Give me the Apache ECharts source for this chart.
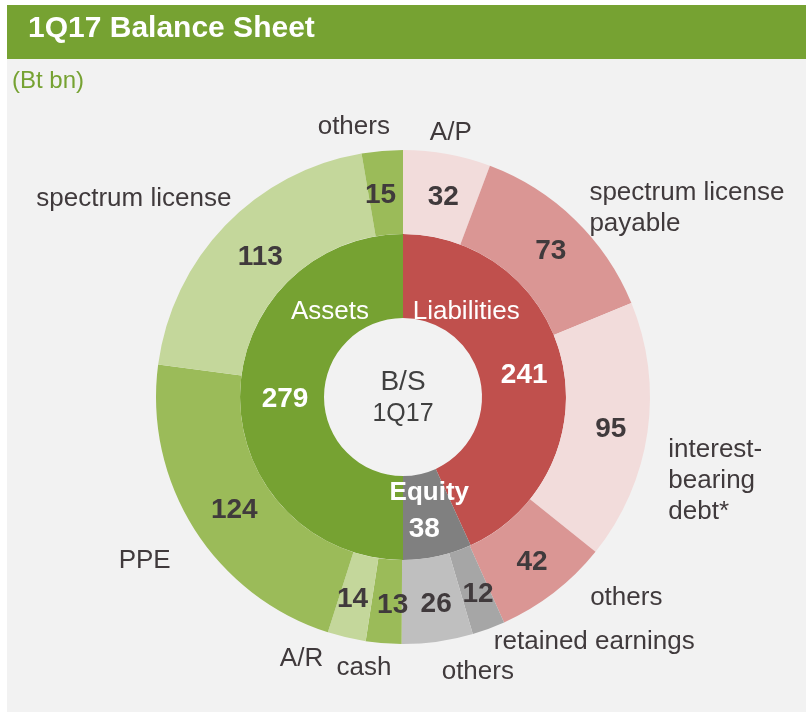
<!DOCTYPE html>
<html>
<head>
<meta charset="utf-8">
<script src="https://cdn.jsdelivr.net/npm/echarts@6/dist/echarts.min.js"></script>
<style>
  html, body { margin: 0; padding: 0; background: #ffffff; }
  #chart { width: 806px; height: 712px; }
</style>
</head>
<body>
<div id="chart"></div>
<script>
// inner ring, clockwise from 12 o'clock
const innerNames = ["Liabilities", "Equity", "Assets"];
const innerValues = [241, 38, 279];

// outer ring, clockwise from 12 o'clock
const outerNames = [
  "A/P",
  "spectrum license\npayable",
  "interest-\nbearing\ndebt*",
  "others",
  "retained earnings",
  "others",
  "cash",
  "A/R",
  "PPE",
  "spectrum license",
  "others",
];
const outerValues = [32, 73, 95, 42, 12, 26, 13, 14, 124, 113, 15];

const innerColors = ["#c0504d", "#808080", "#76a232"];
const outerColors = [
  "#f2dcdb", "#da9694", "#f2dcdb", "#da9694",
  "#a6a6a6", "#bfbfbf",
  "#9bbb59", "#c4d79b", "#9bbb59", "#c4d79b", "#9bbb59",
];

// label nudges (px) relative to where echarts places them
const innerNameNudge = [[-58, -59], [0, -25], [51, -85]];
const innerValueNudge = [[0, 5], [-5, 11], [6, 2]];
const outerValueNudge = [[3, 5], [3, 4], [2, 3], [2, 1], [3, 2], [4, 1], [6, 1], [-3, 0], [7, 2], [7, 5], [-5, 6]];
const outerNameNudge = [
  [-25, -6], [-1, -1], [1, 46], [22, -7], [-5, -1], [-3, 15],
  [14, 10], [-15, 7], [-6, 24], [22, -16], [14, -9],
];

const FONT = "'Liberation Sans', Arial, sans-serif";
const TEXT = "#403a3c";
const CENTER = [403, 397];

const chart = echarts.init(document.getElementById("chart"));

function nudge(table) {
  return (params) => {
    const d = table[params.dataIndex] || [0, 0];
    return { dx: d[0], dy: d[1] };
  };
}

chart.setOption({
  backgroundColor: "#ffffff",
  animation: false,
  graphic: [
    { type: "rect", shape: { x: 7, y: 5, width: 799, height: 707 }, style: { fill: "#f2f2f2" }, silent: true, z: -10 },
    { type: "rect", shape: { x: 7, y: 5, width: 799, height: 54 }, style: { fill: "#76a232" }, silent: true, z: -9 },
  ],
  title: [
    {
      text: "1Q17 Balance Sheet",
      left: 23,
      top: 9,
      textStyle: { color: "#ffffff", fontSize: 30, fontWeight: "bold", fontFamily: FONT },
    },
    {
      text: "(Bt bn)",
      left: 7,
      top: 64,
      textStyle: { color: "#76a232", fontSize: 24, fontWeight: "normal", fontFamily: FONT },
    },
    {
      text: "{a|B/S}\n{b|1Q17}",
      left: "center",
      top: 361,
      textStyle: {
        fontFamily: FONT,
        fontWeight: "normal",
        rich: {
          a: { color: "#404040", fontSize: 28, lineHeight: 32, fontWeight: "normal", fontFamily: FONT, align: "center" },
          b: { color: "#404040", fontSize: 25, lineHeight: 32, fontWeight: "normal", fontFamily: FONT, align: "center" },
        },
      },
    },
  ],
  series: [
    {
      name: "inner",
      type: "pie",
      center: CENTER,
      radius: [79, 163],
      startAngle: 90,
      clockwise: true,
      avoidLabelOverlap: false,
      silent: true,
      itemStyle: { borderWidth: 0 },
      label: {
        position: "inside",
        formatter: "{c}",
        color: "#ffffff",
        fontSize: 28,
        fontWeight: "bold",
        fontFamily: FONT,
      },
      labelLayout: nudge(innerValueNudge),
      data: innerNames.map((name, i) => ({
        name,
        value: innerValues[i],
        itemStyle: { color: innerColors[i] },
      })),
    },
    {
      name: "innerNames",
      type: "pie",
      center: CENTER,
      radius: [79, 163],
      startAngle: 90,
      clockwise: true,
      avoidLabelOverlap: false,
      silent: true,
      z: 3,
      itemStyle: { color: "rgba(0,0,0,0)", borderWidth: 0 },
      label: {
        position: "inside",
        formatter: "{b}",
        color: "#ffffff",
        fontSize: 26,
        fontFamily: FONT,
      },
      labelLayout: nudge(innerNameNudge),
      data: innerNames.map((name, i) => ({
        name,
        value: innerValues[i],
        label: name === "Equity" ? { fontWeight: "bold" } : {},
      })),
    },
    {
      name: "outer",
      type: "pie",
      center: CENTER,
      radius: [163, 247],
      startAngle: 90,
      clockwise: true,
      avoidLabelOverlap: false,
      silent: true,
      itemStyle: { borderWidth: 0 },
      label: {
        position: "inside",
        formatter: "{c}",
        color: TEXT,
        fontSize: 28,
        fontWeight: "bold",
        fontFamily: FONT,
      },
      labelLayout: nudge(outerValueNudge),
      data: outerNames.map((name, i) => ({
        name,
        value: outerValues[i],
        itemStyle: { color: outerColors[i] },
      })),
    },
    {
      name: "outerNames",
      type: "pie",
      center: CENTER,
      radius: [163, 247],
      startAngle: 90,
      clockwise: true,
      avoidLabelOverlap: false,
      silent: true,
      z: 1,
      itemStyle: { color: "rgba(0,0,0,0)", borderWidth: 0 },
      label: {
        position: "outside",
        formatter: "{b}",
        color: TEXT,
        fontSize: 26,
        lineHeight: 31,
        fontFamily: FONT,
        distanceToLabelLine: 5,
      },
      labelLine: { show: false, length: 15, length2: 0 },
      labelLayout: nudge(outerNameNudge),
      data: outerNames.map((name, i) => ({ name, value: outerValues[i] })),
    },
  ],
});
</script>
</body>
</html>
